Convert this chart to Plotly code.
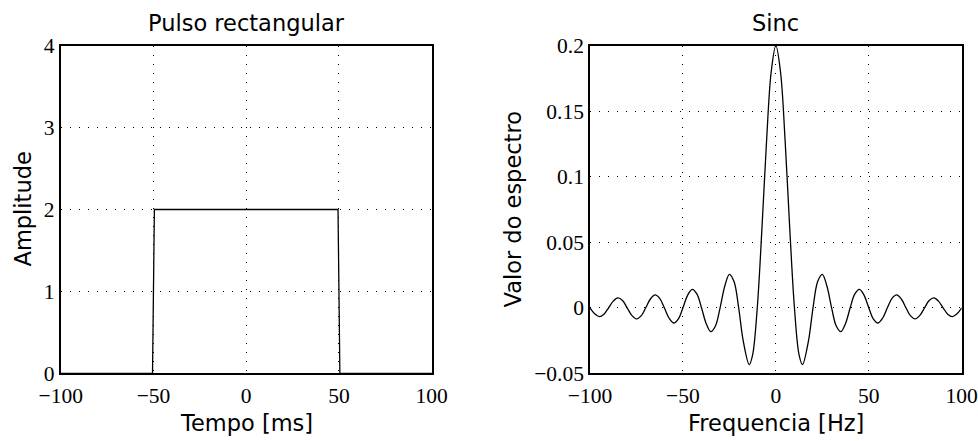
import plotly.graph_objects as go

# ---- data ----
pulse_t = [-100, -50.5, -49.5, 49.5, 50.5, 100]
pulse_a = [0, 0, 2, 2, 0, 0]

sinc_f = [-100, -97.5, -95, -92.5, -90, -87.5, -85, -82.5, -80, -77.5, -75, -72.5,
          -70, -67.5, -65, -62.5, -60, -57.5, -55, -52.5, -50, -47.5, -45, -42.5,
          -40, -37.5, -35, -32.5, -30, -27.5, -25, -22.5, -20, -17.5, -14.3, -12.5,
          -10, -7.5, -5, -2.5, 0, 2.5, 5, 7.5, 10, 12.5, 14.3, 17.5, 20, 22.5, 25,
          27.5, 30, 32.5, 35, 37.5, 40, 42.5, 45, 47.5, 50, 52.5, 55, 57.5, 60,
          62.5, 65, 67.5, 70, 72.5, 75, 77.5, 80, 82.5, 85, 87.5, 90, 92.5, 95,
          97.5, 100]
sinc_v = [0, -0.0046, -0.0067, -0.0049, 0, 0.0051, 0.0075, 0.0055, 0, -0.0058,
          -0.0085, -0.0062, 0, 0.0067, 0.0098, 0.0072, 0, -0.0078, -0.0116, -0.0086,
          0, 0.0095, 0.0141, 0.0106, 0, -0.0120, -0.0182, -0.0139, 0, 0.0164,
          0.0255, 0.0200, 0, -0.0257, -0.0434, -0.0360, 0, 0.0600, 0.1273, 0.1801,
          0.2, 0.1801, 0.1273, 0.0600, 0, -0.0360, -0.0434, -0.0257, 0, 0.0200,
          0.0255, 0.0164, 0, -0.0139, -0.0182, -0.0120, 0, 0.0106, 0.0141, 0.0095,
          0, -0.0086, -0.0116, -0.0078, 0, 0.0072, 0.0098, 0.0067, 0, -0.0062,
          -0.0085, -0.0058, 0, 0.0055, 0.0075, 0.0051, 0, -0.0049, -0.0067,
          -0.0046, 0]

x_ticks = [-100, -50, 0, 50, 100]
x_tick_text = ["\u2212100", "\u221250", "0", "50", "100"]
y1_ticks = [0, 1, 2, 3, 4]
y1_tick_text = ["0", "1", "2", "3", "4"]
y2_ticks = [-0.05, 0, 0.05, 0.1, 0.15, 0.2]
y2_tick_text = ["\u22120.05", "0", "0.05", "0.1", "0.15", "0.2"]

titles = ["Pulso rectangular", "Sinc"]
x_titles = ["Tempo [ms]", "Frequencia [Hz]"]
y_titles = ["Amplitude", "Valor do espectro"]

# ---- figure ----
W, H = 978, 441
dom_x1 = [60.7 / W, 431.7 / W]
dom_x2 = [590 / W, 961.7 / W]
dom_y = [(H - 373.3) / H, (H - 45.7) / H]

fig = go.Figure()
fig.add_trace(go.Scatter(x=pulse_t, y=pulse_a, mode="lines",
                         line=dict(color="black", width=1.3),
                         xaxis="x", yaxis="y", showlegend=False))
fig.add_trace(go.Scatter(x=sinc_f, y=sinc_v, mode="lines",
                         line=dict(color="black", width=1.3, shape="spline", smoothing=1.0),
                         xaxis="x2", yaxis="y2", showlegend=False))

tick_font = dict(family="Liberation Serif", size=21.5, color="black")
grid = dict(showgrid=True, gridcolor="black", gridwidth=1, griddash="1px,8px",
            zeroline=False, showline=True, linecolor="black", linewidth=1.6,
            mirror=True, ticks="", tickfont=tick_font, automargin=False)
xgrid = dict(grid, ticklabelstandoff=2)

fig.update_layout(
    width=W, height=H,
    margin=dict(l=0, r=0, t=0, b=0),
    paper_bgcolor="white", plot_bgcolor="white",
    xaxis=dict(domain=dom_x1, range=[-100, 100], tickvals=x_ticks, ticktext=x_tick_text,
               anchor="y", **xgrid),
    yaxis=dict(domain=dom_y, range=[0, 4], tickvals=y1_ticks, ticktext=y1_tick_text,
               anchor="x", **grid),
    xaxis2=dict(domain=dom_x2, range=[-100, 100], tickvals=x_ticks, ticktext=x_tick_text,
                anchor="y2", **xgrid),
    yaxis2=dict(domain=dom_y, range=[-0.05, 0.2], tickvals=y2_ticks, ticktext=y2_tick_text,
                anchor="x2", **grid),
)

title_font = dict(family="DejaVu Sans", size=22.5, color="black")
centers = [(dom_x1[0] + dom_x1[1]) / 2, (dom_x2[0] + dom_x2[1]) / 2]
ytitle_x = [22 / W, 512 / W]
for i in range(2):
    fig.add_annotation(text=titles[i], x=centers[i], y=1 - 23 / H, xref="paper", yref="paper",
                       xanchor="center", yanchor="middle", showarrow=False, font=title_font)
    fig.add_annotation(text=x_titles[i], x=centers[i], y=1 - 423 / H, xref="paper", yref="paper",
                       xanchor="center", yanchor="middle", showarrow=False, font=title_font)
    fig.add_annotation(text=y_titles[i], x=ytitle_x[i], y=(dom_y[0] + dom_y[1]) / 2,
                       xref="paper", yref="paper", xanchor="center", yanchor="middle",
                       textangle=-90, showarrow=False, font=title_font)

fig.write_html("out.html")
